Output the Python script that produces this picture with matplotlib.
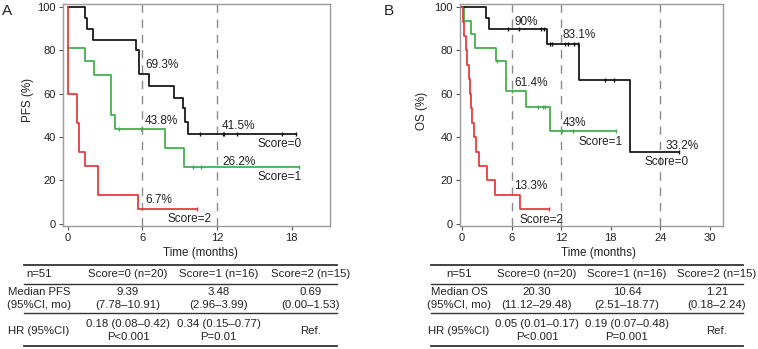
import matplotlib
matplotlib.use("Agg")
import matplotlib.pyplot as plt
from matplotlib.lines import Line2D

plt.rcParams['font.family'] = ['Liberation Sans', 'DejaVu Sans']

W, H = 758, 349
BLACK = "#111111"
GREEN = "#3fae49"
RED = "#e5363b"
FRAME = "#9a9a9a"
TXT = "#222222"

# ---- PFS (panel A) ----
pfs0_t = [0, 1.35, 1.5, 2.05, 5.5, 5.7, 6.55, 8.5, 9.25, 9.45, 9.7]
pfs0_s = [100, 95, 90, 85, 80, 69.3, 63.6, 58.2, 53.3, 47.2, 41.5]
pfs0_end = 18.4
pfs0_cens = [10.6, 12.5, 12.6, 13.65, 17.2, 18.4]

pfs1_t = [0, 1.4, 2.1, 3.45, 3.75, 7.8, 9.35]
pfs1_s = [81.25, 75, 68.75, 50, 43.8, 35, 26.2]
pfs1_end = 18.6
pfs1_cens = [4.1, 5.9, 10.1, 10.7, 18.6]

pfs2_t = [0, 0, 0.7, 0.9, 1.4, 2.4, 5.6]
pfs2_s = [100, 60, 46.7, 33.3, 26.7, 13.3, 6.7]
pfs2_end = 10.4
pfs2_cens = [10.4]

# ---- OS (panel B) ----
os0_t = [0, 2.85, 3.25, 10.35, 14.15, 20.4]
os0_s = [100, 95, 90, 83.1, 66.5, 33.2]
os0_end = 26.3
os0_cens = [5.6, 6.9, 9.6, 9.9, 10.6, 10.9, 12.5, 12.85, 13.6, 14.0, 17.3, 18.4, 26.3]

os1_t = [0, 0.2, 1.15, 1.6, 4.1, 5.3, 7.8, 10.7]
os1_s = [100, 93.75, 87.5, 81.25, 75, 61.4, 53.7, 43]
os1_end = 18.7
os1_cens = [4.25, 6.0, 9.2, 9.8, 10.1, 12.05, 13.4, 18.7]

os2_t = [0, 0.15, 0.3, 0.45, 0.6, 0.8, 0.95, 1.1, 1.2, 1.45, 1.75, 2.0, 3.0, 4.0, 7.0]
os2_s = [100, 93.3, 86.7, 80, 73.3, 66.7, 60, 53.3, 46.7, 40, 33.3, 26.7, 20, 13.3, 6.7]
os2_end = 10.5
os2_cens = [10.5]

pfs_labels = [("69.3%", 6.2, 73.3), ("43.8%", 6.2, 47.6), ("6.7%", 6.2, 10.8),
              ("41.5%", 12.4, 45.2), ("26.2%", 12.4, 28.4),
              ("Score=0", 15.3, 36.9), ("Score=1", 15.3, 21.8), ("Score=2", 8.0, 2.2)]
os_labels = [("90%", 6.3, 93.2), ("83.1%", 12.2, 87.1), ("61.4%", 6.3, 65.1),
             ("43%", 12.2, 46.4), ("13.3%", 6.3, 17.5), ("33.2%", 24.6, 36.1),
             ("Score=1", 14.1, 37.6), ("Score=0", 22.1, 28.4), ("Score=2", 7.0, 1.8)]

tbl_head = ["n=51", "Score=0 (n=20)", "Score=1 (n=16)", "Score=2 (n=15)"]
pfs_med = [["Median PFS", "(95%CI, mo)"], ["9.39", "(7.78\u201310.91)"],
           ["3.48", "(2.96\u20133.99)"], ["0.69", "(0.00\u20131.53)"]]
pfs_hr = [["HR (95%CI)"], ["0.18 (0.08\u20130.42)", "P<0.001"],
          ["0.34 (0.15\u20130.77)", "P=0.01"], ["Ref."]]
os_med = [["Median OS", "(95%CI, mo)"], ["20.30", "(11.12\u201329.48)"],
          ["10.64", "(2.51\u201318.77)"], ["1.21", "(0.18\u20132.24)"]]
os_hr = [["HR (95%CI)"], ["0.05 (0.01\u20130.17)", "P<0.001"],
         ["0.19 (0.07\u20130.48)", "P=0.001"], ["Ref."]]


def fx(x):
    return x / W


def fy(y):
    return 1 - y / H


fig = plt.figure(figsize=(W / 100, H / 100), dpi=100)


def km(ax, t, s, end, cens, color):
    tt = list(t) + [end]
    ss = list(s) + [s[-1]]
    ax.step(tt, ss, where="post", color=color, lw=1.25, zorder=3)
    cy = []
    for c in cens:
        v = s[0]
        for ti, si in zip(t, s):
            if ti <= c:
                v = si
        cy.append(v)
    ax.plot(cens, cy, ls="none", marker="|", ms=3.5, mew=1.0, color=color, zorder=4)


def setup(ax, xlim, xticks, dashes, ylabel):
    ax.set_xlim(*xlim)
    ax.set_ylim(-1, 101.4)
    ax.set_xticks(xticks)
    ax.set_yticks([0, 20, 40, 60, 80, 100])
    for sp in ax.spines.values():
        sp.set_color(FRAME)
        sp.set_linewidth(1.0)
    ax.tick_params(direction="out", length=3, width=0.8, color="#555555",
                   labelsize=8, labelcolor=TXT, pad=2)
    for d in dashes:
        ax.axvline(d, color="#8a8a8a", lw=1.0, ls=(0, (6, 5)), zorder=1)
    ax.set_xlabel("Time (months)", fontsize=8.4, color=TXT)
    ax.set_ylabel(ylabel, fontsize=8.4, color=TXT)


# Panel A
axA = fig.add_axes([fx(63), fy(226), fx(330 - 63), (226 - 4) / H])
setup(axA, (-0.4, 21.1), [0, 6, 12, 18], [6, 12], "PFS (%)")
km(axA, pfs1_t, pfs1_s, pfs1_end, pfs1_cens, GREEN)
km(axA, pfs0_t, pfs0_s, pfs0_end, pfs0_cens, BLACK)
km(axA, pfs2_t, pfs2_s, pfs2_end, pfs2_cens, RED)
for txt, x, y in pfs_labels:
    axA.text(x, y, txt, fontsize=8.5, color=TXT, ha="left", va="center")
axA.xaxis.set_label_coords((200 - 63) / (330 - 63), -(247 - 226) / 222)
axA.yaxis.set_label_coords(-(63 - 34) / (330 - 63), (226 - 100) / 222)

# Panel B
axB = fig.add_axes([fx(460), fy(226), fx(723 - 460), (226 - 4) / H])
setup(axB, (-0.24, 31.6), [0, 6, 12, 18, 24, 30], [6, 12, 24], "OS (%)")
km(axB, os1_t, os1_s, os1_end, os1_cens, GREEN)
km(axB, os0_t, os0_s, os0_end, os0_cens, BLACK)
km(axB, os2_t, os2_s, os2_end, os2_cens, RED)
for txt, x, y in os_labels:
    axB.text(x, y, txt, fontsize=8.5, color=TXT, ha="left", va="center")
axB.xaxis.set_label_coords((598 - 460) / (723 - 460), -(247 - 226) / 222)
axB.yaxis.set_label_coords(-(460 - 428) / (723 - 460), (226 - 111) / 222)

fig.text(fx(7), fy(11), "A", fontsize=11, color=TXT, ha="center", va="center")
fig.text(fx(389), fy(11), "B", fontsize=11, color=TXT, ha="center", va="center")


def table(x0, x1, cols, med, hr):
    for y, lw in [(264.5, 1.3), (283.5, 1.0), (313, 1.0), (345.5, 1.3)]:
        fig.add_artist(Line2D([fx(x0), fx(x1)], [fy(y), fy(y)], color="#333333", lw=lw))
    for c, txt in zip(cols, tbl_head):
        fig.text(fx(c), fy(274), txt, fontsize=8.2, color=TXT, ha="center", va="center")
    for c, cell in zip(cols, med):
        ys = [292, 305.5] if len(cell) == 2 else [299]
        for yy, line in zip(ys, cell):
            fig.text(fx(c), fy(yy), line, fontsize=8.2, color=TXT, ha="center", va="center")
    for c, cell in zip(cols, hr):
        ys = [324, 336.5] if len(cell) == 2 else [331]
        for yy, line in zip(ys, cell):
            fig.text(fx(c), fy(yy), line, fontsize=8.2, color=TXT, ha="center", va="center")


table(24, 337, [39, 128, 218.5, 310.5], pfs_med, pfs_hr)
table(431, 743, [459, 537, 627, 717], os_med, os_hr)

fig.savefig("out.png", dpi=100)
